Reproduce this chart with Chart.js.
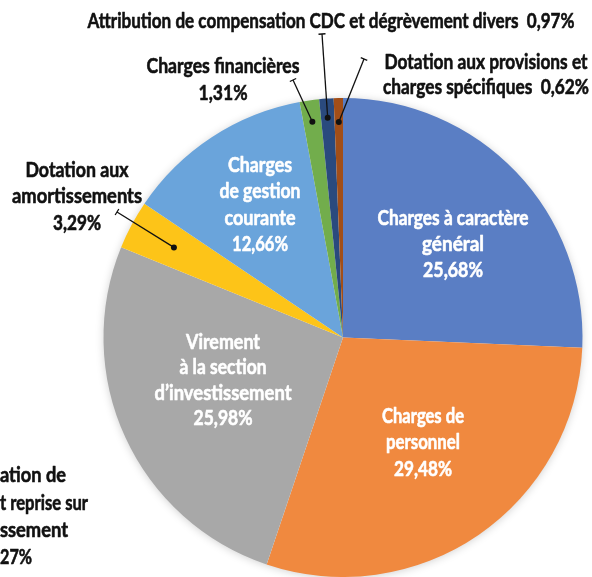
<!DOCTYPE html>
<html>
<head>
<meta charset="utf-8">
<script src="https://cdn.jsdelivr.net/npm/chart.js@4"></script>
<style>
html,body{margin:0;padding:0;background:#fff;overflow:hidden;}
canvas{display:block;}
</style>
</head>
<body>
<canvas id="c" width="592" height="577"></canvas>
<script>
// ---- data ----
const categories = [
  "Charges à caractère général",
  "Charges de personnel",
  "Virement à la section d’investissement",
  "Dotation aux amortissements",
  "Charges de gestion courante",
  "Charges financières",
  "Attribution de compensation CDC et dégrèvement divers",
  "Dotation aux provisions et charges spécifiques"
];
const values = [25.68, 29.48, 25.98, 3.29, 12.66, 1.31, 0.97, 0.62];
const labelLines = [
  ["Charges à caractère", "général"],
  ["Charges de", "personnel"],
  ["Virement", "à la section", "d’investissement"],
  ["Dotation aux", "amortissements"],
  ["Charges", "de gestion", "courante"],
  ["Charges financières"],
  ["Attribution de compensation CDC et dégrèvement divers"],
  ["Dotation aux provisions et", "charges spécifiques"]
];
const colors = ["#5A7EC4","#F0893F","#A8A8A8","#FDC418","#6AA4DB","#72AD4C","#2A4A7E","#A24E18"];
const extraNoteLines = ["ation de", "t reprise sur", "ssement", "27%"];

// ---- layout (positions/styles, not data) ----
const FONT = "bold 21px Lato, 'Open Sans', sans-serif";
const labelLayout = [
  {x:453, y:218, lh:26, inside:true, w:[151,62,60]},
  {x:423, y:416, lh:26.5, inside:true, w:[82,74,58]},
  {x:223, y:342, lh:25.5, inside:true, w:[74,87,137,59]},
  {x:77, y:170, lh:26.5, inside:false, w:[103,130,48], tick:[117,212], frac:0.8},
  {x:260, y:165, lh:26.5, inside:true, w:[64,81,71,56]},
  {x:223, y:66, lh:27, inside:false, w:[153,49], tick:[293,80], frac:0.91},
  {x:331, y:21, lh:26, inside:false, sameLine:true, w:[487], tick:[322,34], frac:0.92},
  {x:486, y:62, lh:25.5, inside:false, sameLineLast:true, w:[203,206], tick:[364,59], frac:0.9}
];

const fmt = v => v.toFixed(2).replace('.', ',') + '%';

const shadowPlugin = {
  id: 'shadowPlugin',
  beforeDatasetsDraw(chart) {
    const arc = chart.getDatasetMeta(0).data[0];
    if (!arc) return;
    const ctx = chart.ctx;
    ctx.save();
    ctx.shadowColor = 'rgba(0,0,0,0.22)';
    ctx.shadowBlur = 10;
    ctx.shadowOffsetX = 0;
    ctx.shadowOffsetY = 1;
    ctx.fillStyle = '#ffffff';
    ctx.beginPath();
    ctx.arc(arc.x, arc.y, arc.outerRadius - 1, 0, Math.PI * 2);
    ctx.fill();
    ctx.restore();
  }
};

function heavyText(ctx, t, x, y, w) {
  ctx.fillText(t, x, y, w);
  ctx.strokeText(t, x, y, w);
}

const labelPlugin = {
  id: 'labelPlugin',
  afterDatasetsDraw(chart) {
    const ctx = chart.ctx;
    const meta = chart.getDatasetMeta(0);
    ctx.save();
    ctx.font = FONT;
    ctx.textAlign = 'center';
    ctx.textBaseline = 'middle';
    ctx.lineJoin = 'round';
    labelLines.forEach((lines, i) => {
      const L = labelLayout[i];
      let all;
      if (L.sameLine || L.sameLineLast) {
        all = lines.slice();
        all[all.length - 1] = all[all.length - 1] + '  ' + fmt(values[i]);
      } else {
        all = lines.concat([fmt(values[i])]);
      }
      const col = L.inside ? '#ffffff' : '#111111';
      ctx.fillStyle = col;
      ctx.strokeStyle = col;
      ctx.lineWidth = 0.6;
      all.forEach((t, k) => {
        heavyText(ctx, t, L.x, L.y + k * L.lh, L.w[k] || undefined);
      });
      if (!L.inside) {
        const arc = meta.data[i];
        const mid = (arc.startAngle + arc.endAngle) / 2;
        const r = arc.outerRadius * L.frac;
        const dx = arc.x + Math.cos(mid) * r;
        const dy = arc.y + Math.sin(mid) * r;
        const tx = L.tick[0], ty = L.tick[1];
        ctx.strokeStyle = '#111';
        ctx.lineWidth = 1.3;
        ctx.beginPath();
        ctx.moveTo(dx, dy);
        ctx.lineTo(tx, ty);
        ctx.stroke();
        const ang = Math.atan2(ty - dy, tx - dx);
        const px = Math.cos(ang + Math.PI / 2) * 3.5, py = Math.sin(ang + Math.PI / 2) * 3.5;
        ctx.beginPath();
        ctx.moveTo(tx - px, ty - py);
        ctx.lineTo(tx + px, ty + py);
        ctx.stroke();
        ctx.fillStyle = '#111';
        ctx.beginPath();
        ctx.arc(dx, dy, 3, 0, Math.PI * 2);
        ctx.fill();
      }
    });
    ctx.textAlign = 'left';
    ctx.fillStyle = '#111111';
    ctx.strokeStyle = '#111111';
    ctx.lineWidth = 0.6;
    const noteY = [475, 503, 530, 557];
    const noteW = [66, 88, 68, 32];
    extraNoteLines.forEach((t, k) => heavyText(ctx, t, 0, noteY[k], noteW[k]));
    ctx.restore();
  }
};

new Chart(document.getElementById('c'), {
  type: 'pie',
  data: {
    labels: categories,
    datasets: [{
      data: values,
      backgroundColor: colors,
      borderWidth: 0,
      hoverOffset: 0
    }]
  },
  options: {
    responsive: false,
    animation: false,
    events: [],
    layout: { padding: { left: 103, right: 9, top: 98, bottom: 0 } },
    plugins: {
      legend: { display: false },
      tooltip: { enabled: false },
      title: { display: false }
    }
  },
  plugins: [shadowPlugin, labelPlugin]
});
</script>
</body>
</html>
